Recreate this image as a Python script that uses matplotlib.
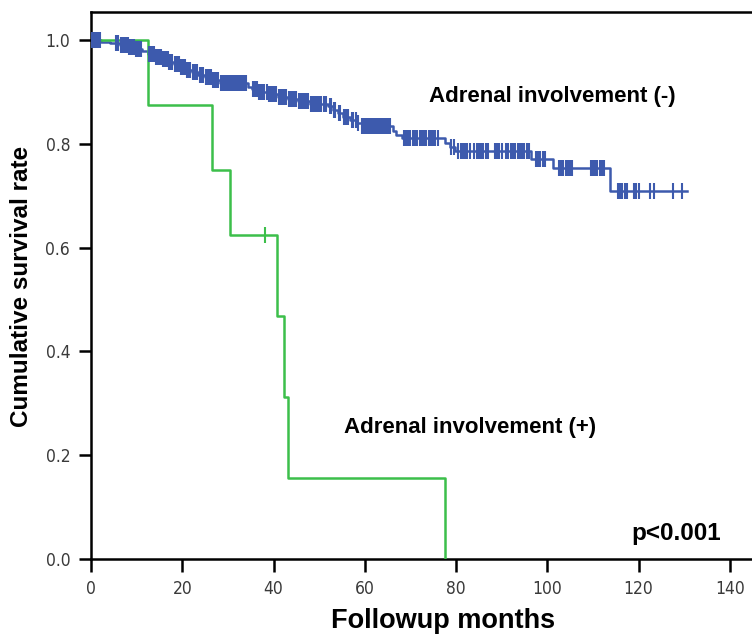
import numpy as np
import matplotlib
matplotlib.use('Agg')
import matplotlib.pyplot as plt

# Kaplan-Meier steps, adrenal involvement (-): event times (months) and survival after each step
neg_times = [0, 2.2, 4.2, 6.4, 8.1, 9.6, 11.2, 12.5, 14.0, 15.6, 16.9, 18.2, 19.5, 20.8,
             22.1, 23.5, 25.0, 26.5, 28.3, 34.4, 35.3, 36.6, 38.8, 41.0, 43.2, 45.4,
             48.0, 51.9, 53.0, 54.1, 55.2, 56.8, 58.3, 59.4, 66.2, 66.8, 68.2, 77.6,
             78.7, 79.8, 96.4, 101.3, 113.8]
neg_surv = [1.0, 0.997, 0.994, 0.99, 0.986, 0.982, 0.978, 0.973, 0.968, 0.963, 0.958,
            0.953, 0.948, 0.943, 0.938, 0.933, 0.928, 0.922, 0.917, 0.910, 0.905, 0.899,
            0.895, 0.891, 0.886, 0.882, 0.877, 0.872, 0.866, 0.859, 0.852, 0.846, 0.840,
            0.835, 0.825, 0.817, 0.812, 0.802, 0.794, 0.786, 0.771, 0.753, 0.710]
neg_end = 130.6
neg_censored = [0.3, 0.6, 0.8, 1.2, 1.5, 2.0,
                5.5, 6.0, 6.5, 6.8, 7.0, 7.3, 7.5, 7.8, 8.0, 8.3, 8.5, 8.8, 9.0, 9.3,
                9.5, 9.8, 10.0, 10.3, 10.5, 10.8, 11.0,
                12.8, 13.0, 13.3, 13.5, 13.8, 14.3, 14.5, 14.8, 15.0, 15.3, 15.8, 16.0,
                16.3, 16.5, 16.8, 17.0, 17.3, 17.5, 17.8, 18.5, 18.8, 19.0, 19.3, 19.8,
                20.0, 20.3, 20.5, 21.0, 21.3, 21.5, 21.8, 22.3, 22.5, 22.8, 23.0, 23.3,
                23.8, 24.0, 24.3, 24.6, 25.3, 25.5, 25.8, 26.0, 26.3, 26.8, 27.0, 27.3,
                27.5, 27.8, 28.5, 28.8, 29.0, 29.3, 29.5, 29.8, 30.0, 30.3, 30.5, 30.8,
                31.0, 31.3, 31.5, 31.8, 32.0, 32.3, 32.5, 32.8, 33.0, 33.3, 33.5, 33.8,
                34.0, 35.5, 35.8, 36.0, 36.3, 36.8, 37.0, 37.3, 37.5, 37.8, 38.0, 38.5,
                39.0, 39.3, 39.5, 39.8, 40.0, 40.3, 40.5, 41.3, 41.5, 41.8, 42.0, 42.3,
                42.5, 42.8, 43.5, 43.8, 44.0, 44.3, 44.5, 44.8, 45.0, 45.6, 45.8, 46.0,
                46.3, 46.5, 46.8, 47.0, 47.3, 47.5, 48.3, 48.5, 48.8, 49.0, 49.3, 49.5,
                49.8, 50.0, 50.3, 50.5, 51.0, 51.5, 52.3, 52.5, 53.3, 53.5, 54.3, 54.5,
                55.5, 55.8, 56.0, 56.3, 57.3, 57.5, 58.0, 58.5,
                59.5, 59.8, 60.0, 60.3, 60.5, 60.8, 61.0, 61.3, 61.5, 61.8, 62.0, 62.3,
                62.5, 62.8, 63.0, 63.3, 63.5, 63.8, 64.0, 64.3, 64.5, 64.8, 65.0, 65.5,
                68.5, 68.8, 69.0, 69.5, 70.0, 70.5, 70.8, 71.0, 71.5, 72.0, 72.5, 72.8,
                73.0, 73.5, 74.0, 74.5, 75.0, 75.5, 76.0,
                79.0, 79.5, 80.5, 81.0, 81.5, 82.0, 82.5, 83.0, 84.0, 84.5, 85.0, 85.5,
                86.0, 86.5, 87.0, 88.5, 89.0, 89.5, 90.0, 91.0, 91.5, 92.0, 92.5, 93.0,
                93.5, 94.0, 94.5, 95.0, 95.5, 96.0, 97.5, 98.0, 98.5, 99.0, 99.5,
                102.5, 103.0, 103.5, 104.0, 104.5, 105.0, 105.5, 109.5, 110.0, 110.5,
                111.0, 111.5, 112.0, 112.5, 115.5, 116.0, 116.3, 117.0, 117.5,
                119.0, 119.5, 120.0, 122.5, 123.3, 127.6, 129.5]

# adrenal involvement (+), n = 8
pos_times = [0, 12.5, 26.5, 30.5, 40.8, 42.3, 43.1, 77.6]
pos_surv = [1.0, 0.875, 0.75, 0.625, 0.469, 0.3125, 0.156, 0.0]
pos_end = 77.6
pos_censored = [38.2]

blue = '#3d5aad'
green = '#3cbf4a'


def surv_at(times, surv, t):
    idx = np.searchsorted(times, t, side='right') - 1
    return np.asarray(surv)[idx]


fig = plt.figure(figsize=(7.52, 6.37), dpi=100)
ax = fig.add_axes([91 / 752, 1 - 559 / 637, 1 - 91 / 752, (559 - 12) / 637])

# survival curves drawn as post steps out to the last follow-up
for times, surv, end, cens, col in [(neg_times, neg_surv, neg_end, neg_censored, blue),
                                    (pos_times, pos_surv, pos_end, pos_censored, green)]:
    xs = list(times) + [end]
    ys = list(surv) + [surv[-1]]
    ax.step(xs, ys, where='post', color=col, lw=1.8, zorder=3)
    ax.plot(cens, surv_at(times, surv, cens), ls='none', marker='|',
            ms=11, mew=1.5, color=col, zorder=4)

ax.set_xlim(0, 661 / 4.5625)
ax.set_ylim(0, 1 + 28 / 519)
ax.set_xticks(np.arange(0, 141, 20))
ax.set_yticks(np.arange(0, 1.01, 0.2))
ax.set_yticklabels(['%.1f' % v for v in np.arange(0, 1.01, 0.2)])

for s in ['left', 'bottom', 'top']:
    ax.spines[s].set_linewidth(1.8)
ax.spines['right'].set_visible(False)
ax.tick_params(direction='out', length=9, width=1.8, labelsize=12.5,
               labelcolor='#3a3a3a', pad=6)
for lab in ax.get_xticklabels() + ax.get_yticklabels():
    lab.set_family(['DejaVu Sans'])
    lab.set_stretch('condensed')

label_font = dict(family='Liberation Sans', weight='bold')
ax.set_ylabel('Cumulative survival rate', fontsize=17.5, **label_font)
ax.set_xlabel('Followup months', fontsize=19.5, **label_font)
ax.xaxis.set_label_coords((443 - 91) / 661, -0.090)
ax.yaxis.set_label_coords(-0.087, (559 - 286) / 547)

ax.text(74.0, 0.891, 'Adrenal involvement (-)', fontsize=16, va='center', **label_font)
ax.text(55.4, 0.253, 'Adrenal involvement (+)', fontsize=16, va='center', **label_font)
ax.text(118.4, 0.05, 'p<0.001', fontsize=17.5, va='center', **label_font)

fig.savefig('out.png', dpi=100)
